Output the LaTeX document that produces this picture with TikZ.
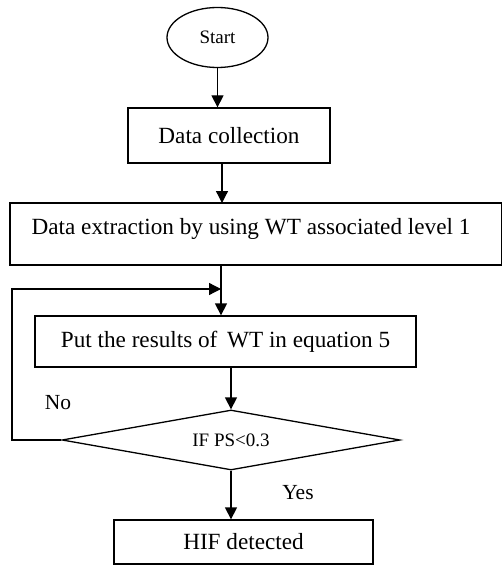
\documentclass[tikz,border=0pt]{standalone}
\usepackage{fontspec}
\setmainfont{Liberation Serif}
\usetikzlibrary{shapes.geometric,arrows.meta}
\begin{document}
\begin{tikzpicture}[x=1pt,y=-1pt,
  box/.style={draw,line width=1.3pt,minimum height=#1,inner sep=0pt},
  flow/.style={line width=1.3pt,-{Triangle[length=12pt,width=12pt]}},
  lbl/.style={font=\fontsize{21.5}{24}\selectfont},
  every node/.style={font=\fontsize{23.2}{26}\selectfont}]
\useasboundingbox (0,0) rectangle (501,567);
\node[draw,line width=1.3pt,ellipse,minimum width=101pt,minimum height=60pt,inner sep=0pt,font=\fontsize{19}{22}\selectfont] (start) at (217.5,37.5) {Start};
\node[box=55pt,minimum width=202pt] (dc) at (229,135.5) {Data collection};
\node[box=62pt,minimum width=492pt] (de) at (256,234) {};
\node (det) at (251,229) {Data extraction by using WT associated level 1};
\node[box=51pt,minimum width=381pt] (pr) at (225.5,341.5) {Put the results of\, WT in equation 5};
\node[draw,line width=1.3pt,diamond,aspect=5.63,minimum width=338pt,minimum height=60pt,inner sep=0pt,font=\fontsize{19}{22}\selectfont] (dec) at (231,440) {IF PS<0.3};
\node[box=44pt,minimum width=259pt] (hif) at (243.5,542) {HIF detected};
\coordinate (m) at (221,289);
\coordinate (ll) at (12,440);
\coordinate (lt) at (12,289);
\node[lbl] (no) at (58,403) {No};
\node[lbl] (yes) at (298,493) {Yes};
\draw[flow] (start.south) -- (start.south |- dc.north);
\draw[flow] (dc.south -| 222,0) -- (222,203);
\draw[flow] (de.south -| m) -- (m |- pr.north);
\draw[flow] (pr.south -| dec.north) -- (dec.north);
\draw[flow] (dec.south) -- (dec.south |- hif.north);
\draw[flow] (dec.west) -- (ll) -- (lt) -- (m);
\end{tikzpicture}
\end{document}
